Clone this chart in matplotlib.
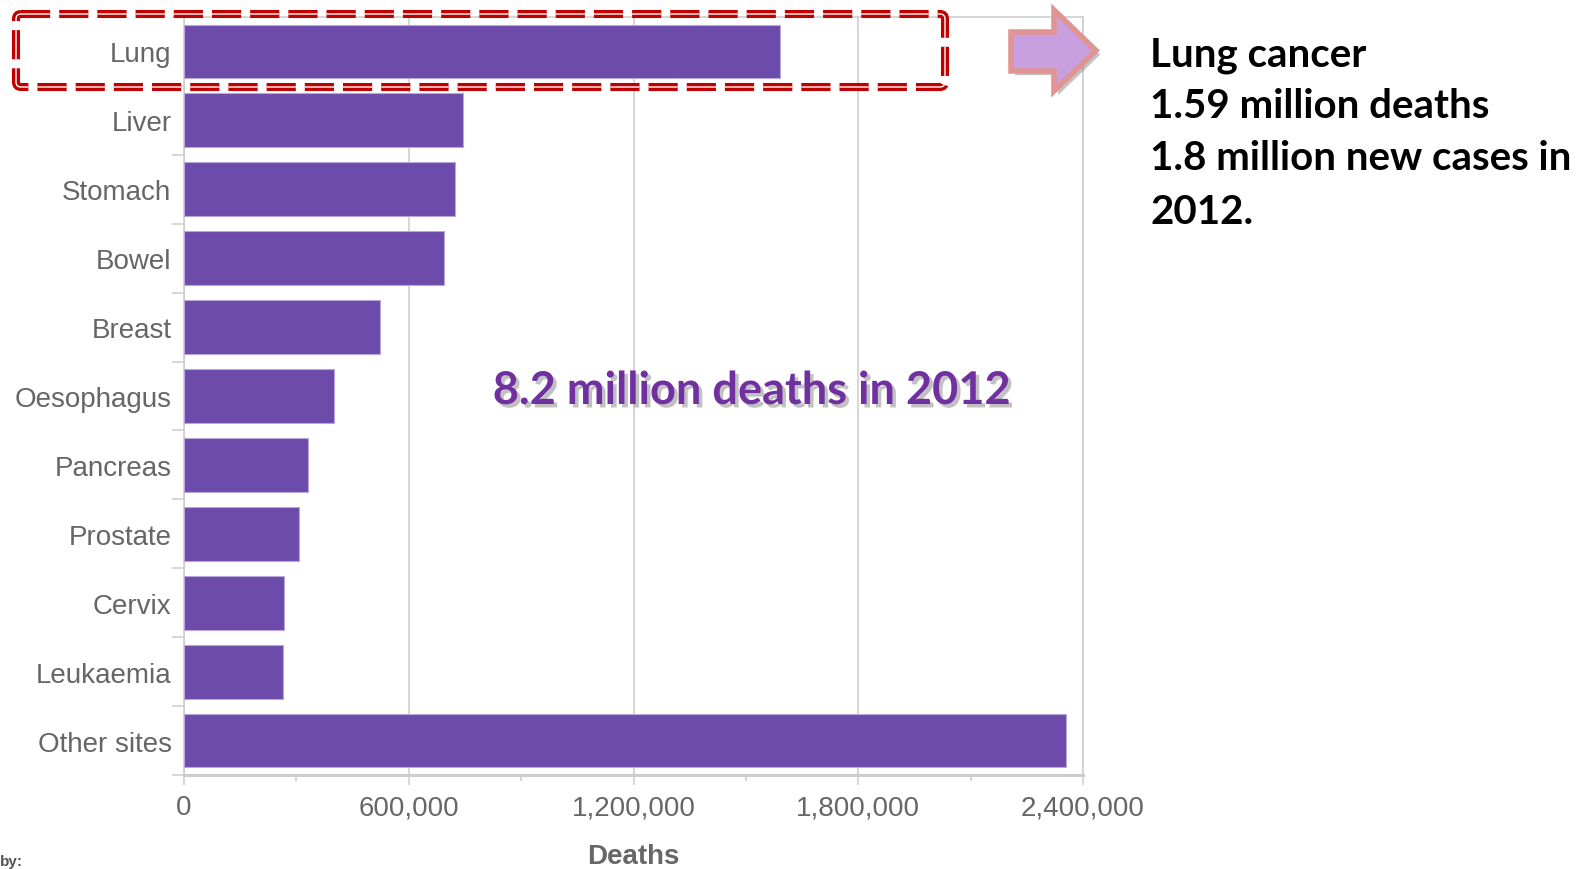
import matplotlib
matplotlib.use("Agg")
import matplotlib.pyplot as plt
import matplotlib.patheffects as pe
from matplotlib.patches import FancyBboxPatch, Polygon
from matplotlib.ticker import FuncFormatter, MultipleLocator
import numpy as np

plt.rcParams['lines.scale_dashes'] = False

# cancer deaths by site, 2012
sites = ["Lung", "Liver", "Stomach", "Bowel", "Breast", "Oesophagus",
         "Pancreas", "Prostate", "Cervix", "Leukaemia", "Other sites"]
deaths = [1590000, 745000, 723000, 694000, 522000, 400000,
          330000, 307000, 266000, 265000, 2354000]
xticks = [0, 600000, 1200000, 1800000, 2400000]

side_lines = ["Lung cancer", "1.59 million deaths", "1.8 million new cases in", "2012."]
total_note = "8.2 million deaths in 2012"

W, H = 1589, 870
fig = plt.figure(figsize=(W / 100, H / 100), dpi=100)

bar_col = "#6D4BAA"
grid_col = "#CCCCCC"
label_col = "#666666"
label_font = ["Liberation Sans", "DejaVu Sans"]

ax = fig.add_axes([184 / W, 1 - 776 / H, (1083 - 184) / W, (776 - 18) / H])
y = np.arange(len(sites))
ax.barh(y, deaths, height=0.78, color=bar_col, edgecolor="#B8A5DA", linewidth=0.8, zorder=3)
ax.set_ylim(len(sites) - 0.5, -0.5)
ax.set_xlim(0, xticks[-1])

ax.set_xticks(xticks)
ax.xaxis.set_minor_locator(MultipleLocator(300000))
ax.xaxis.set_major_formatter(FuncFormatter(lambda v, p: f"{int(v):,}"))
ax.set_yticks(y)
ax.set_yticklabels(sites)
ax.set_yticks(np.arange(len(sites) + 1) - 0.5, minor=True)

ax.grid(axis="x", color=grid_col, linewidth=1.1, zorder=0)
for s in ax.spines.values():
    s.set_color(grid_col)
    s.set_linewidth(1.1)
ax.spines["bottom"].set_linewidth(2.2)

ax.tick_params(axis="y", which="major", length=0, pad=9, labelsize=20, labelcolor=label_col)
ax.tick_params(axis="y", which="minor", length=8.5, color=grid_col, width=1.1)
ax.tick_params(axis="x", which="major", length=7, color=grid_col, width=1.1, pad=7,
               labelsize=20, labelcolor=label_col)
ax.tick_params(axis="x", which="minor", length=4, color=grid_col, width=1.1)
for t in ax.get_xticklabels() + ax.get_yticklabels():
    t.set_family(label_font)

ax.set_xlabel("Deaths", fontsize=20, fontweight="bold", color=label_col,
              family=label_font, labelpad=16)

# overlay in pixel units for the callouts
ov = fig.add_axes([0, 0, 1, 1], zorder=10)
ov.set_xlim(0, W)
ov.set_ylim(H, 0)
ov.axis("off")
ov.patch.set_alpha(0)

box = dict(boxstyle="round,pad=0,rounding_size=5", fill=False)
ov.add_patch(FancyBboxPatch((16, 15), 929, 73, ec="#C00000", lw=5.8,
                            linestyle=(0, (21, 6.5)), **box))
ov.add_patch(FancyBboxPatch((16, 15), 929, 73, ec="white", lw=1.0,
                            linestyle=(0, (21, 6.5)), **box))

arrow = [(1011, 33), (1054, 33), (1054, 11), (1096, 51.5),
         (1054, 92), (1054, 72), (1011, 72)]
ov.add_patch(Polygon(arrow, closed=True, fc="#C9A0DF", ec="#E09494", lw=4,
                     path_effects=[pe.SimplePatchShadow(offset=(3, -3), shadow_rgbFace="#888888", alpha=0.5),
                                   pe.Normal()]))

side_font = ["Lato", "DejaVu Sans"]
side_y = [56, 107, 159, 213]
for line, ty in zip(side_lines, side_y):
    ov.text(1150, ty, line, fontsize=29, fontweight="bold", family=side_font,
            color="black", va="center", ha="left")

ov.text(752, 392, total_note, fontsize=32.5, fontweight="bold", family=side_font,
        color="#7030A0", ha="center", va="center",
        path_effects=[pe.SimplePatchShadow(offset=(2.5, -2.5), shadow_rgbFace="#999999", alpha=0.6),
                      pe.Normal()])

ov.text(0, 869, "by:", fontsize=11, fontweight="bold", family=label_font,
        color="#555555", ha="left", va="bottom")

fig.savefig("out.png", dpi=100)
